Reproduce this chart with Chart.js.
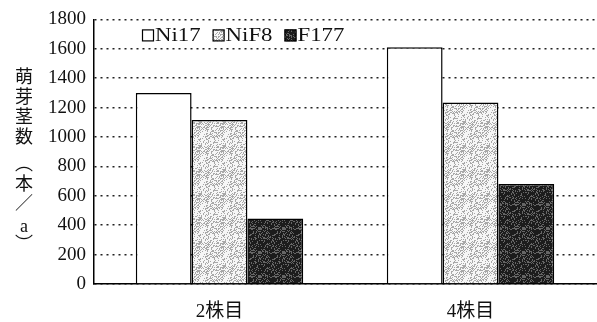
<!DOCTYPE html>
<html>
<head>
<meta charset="utf-8">
<script src="https://cdn.jsdelivr.net/npm/chart.js@4/dist/chart.umd.min.js"></script>
<style>
  html, body { margin: 0; padding: 0; background: #fff; }
  #wrap { width: 597px; height: 322px; }
</style>
</head>
<body>
<div id="wrap"><canvas id="c" width="597" height="322"></canvas></div>
<script>
// Sprouting stems per are, by plant position and variety
const categories = ['2株目', '4株目'];
const seriesNames = ['Ni17', 'NiF8', 'F177'];
const ni17 = [1300, 1610];
const nif8 = [1115, 1235];
const f177 = [445, 680];
const yTicks = [0, 200, 400, 600, 800, 1000, 1200, 1400, 1600, 1800];
const yTitleChars = ['萌', '芽', '茎', '数', '︵', '本', '／', 'a', '︶'];

const SERIF = "'Liberation Serif', 'Noto Sans CJK JP', serif";

// Stippled fills built from a fixed hash so they look like halftone dots
function hash(x, y) {
  let h = (x * 374761393 + y * 668265263) | 0;
  h = (h ^ (h >>> 13)) * 1274126177 | 0;
  h = h ^ (h >>> 16);
  return (h >>> 0) / 4294967295;
}
function stipple(density, dot, bg, seed) {
  const size = 24;
  const cv = document.createElement('canvas');
  cv.width = size; cv.height = size;
  const g = cv.getContext('2d');
  g.fillStyle = bg;
  g.fillRect(0, 0, size, size);
  g.fillStyle = dot;
  for (let y = 0; y < size; y++) {
    for (let x = 0; x < size; x++) {
      if (hash(x + seed, y + seed * 3) < density) g.fillRect(x, y, 1, 1);
    }
  }
  return g.createPattern(cv, 'repeat');
}
const ctx = document.getElementById('c').getContext('2d');
const lightFill = stipple(0.33, '#a8a8a8', '#f6f6f6', 7);
const darkFill = stipple(0.72, '#1c1c1c', '#666666', 19);

// Legend drawn inside the plot area, upper left
const innerLegend = {
  id: 'innerLegend',
  afterDraw(chart) {
    const c = chart.ctx;
    const area = chart.chartArea;
    const sx = 1.2;
    let x = area.left + 48;
    const yc = area.top + 16;
    c.save();
    c.font = '19px ' + SERIF;
    c.textBaseline = 'middle';
    chart.data.datasets.forEach(ds => {
      c.fillStyle = ds.backgroundColor;
      c.fillRect(x, yc - 6, 12, 12);
      c.strokeStyle = '#000';
      c.lineWidth = 1.2;
      c.strokeRect(x + 0.5, yc - 5.5, 11, 11);
      x += 13;
      c.save();
      c.translate(x, yc + 1);
      c.scale(sx, 1);
      c.fillStyle = '#111';
      c.fillText(ds.label, 0, 0);
      c.restore();
      x += c.measureText(ds.label).width * sx + 12;
    });
    c.restore();
  }
};

// Vertical y-axis title, one character per row
const titleRows = [59, 79, 99, 119, 144, 166, 185, 208, 224];
const verticalTitle = {
  id: 'verticalTitle',
  afterDraw(chart) {
    const c = chart.ctx;
    const area = chart.chartArea;
    c.save();
    c.fillStyle = '#111';
    c.textAlign = 'center';
    c.textBaseline = 'middle';
    yTitleChars.forEach((ch, i) => {
      c.font = (ch === '︵' || ch === '︶') ? "18px 'Noto Sans CJK JP'" : '18px ' + SERIF;
      c.fillText(ch, 24, area.top + titleRows[i]);
    });
    c.restore();
  }
};

new Chart(ctx, {
  type: 'bar',
  data: {
    labels: categories,
    datasets: [
      { label: seriesNames[0], data: ni17, backgroundColor: '#ffffff', borderColor: '#000', borderWidth: 1.5 },
      { label: seriesNames[1], data: nif8, backgroundColor: lightFill, borderColor: '#000', borderWidth: 1.5 },
      { label: seriesNames[2], data: f177, backgroundColor: darkFill, borderColor: '#000', borderWidth: 1.5 }
    ]
  },
  options: {
    responsive: false,
    animation: false,
    devicePixelRatio: 1,
    layout: { padding: { top: 18, right: 1, left: 0, bottom: 0 } },
    datasets: { bar: { categoryPercentage: 0.667, barPercentage: 1.0 } },
    plugins: { legend: { display: false }, tooltip: { enabled: false } },
    scales: {
      x: {
        grid: { display: false, drawTicks: false },
        border: { display: true, color: '#000', width: 1.5 },
        ticks: { font: { family: SERIF, size: 19 }, color: '#111', padding: 17 },
        afterFit(s) { s.height = 38; }
      },
      y: {
        min: 0, max: 1800,
        afterBuildTicks(s) { s.ticks = yTicks.map(v => ({ value: v })); },
        grid: { color: '#222', lineWidth: 1.5, drawTicks: false },
        border: { display: true, color: '#000', width: 1.5, dash: [2, 4] },
        ticks: {
          font: { family: SERIF, size: 19 }, color: '#111', padding: 8,
          callback: v => String(v)
        },
        afterFit(s) { s.width = 94; }
      }
    }
  },
  plugins: [innerLegend, verticalTitle]
});
</script>
</body>
</html>
